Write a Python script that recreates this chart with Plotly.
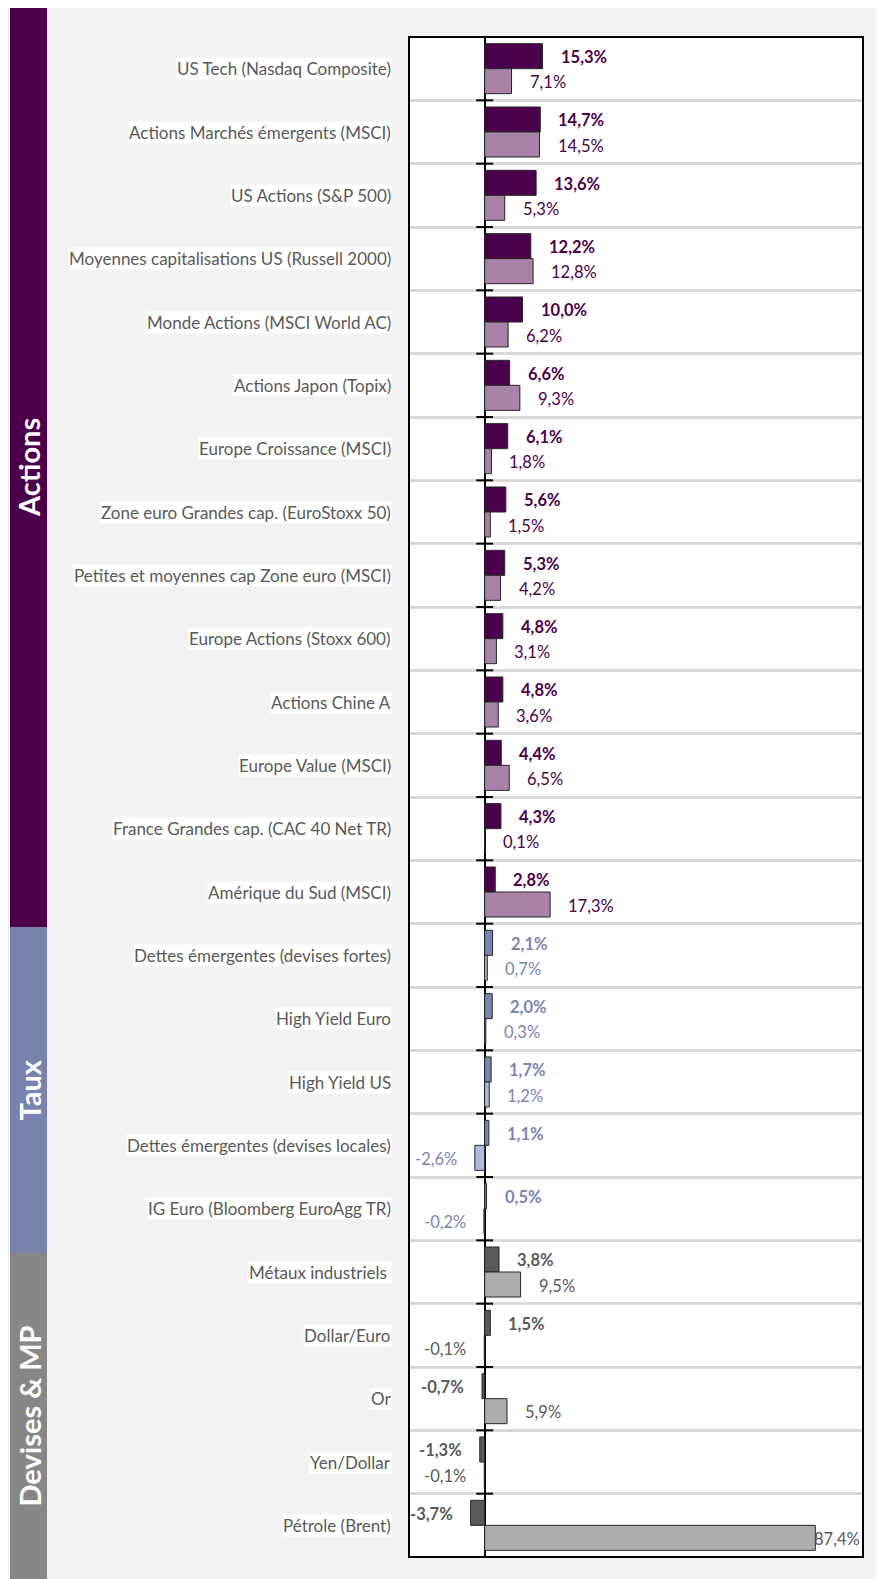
import plotly.graph_objects as go

# ---------------- data ----------------
categories = [
    "US Tech (Nasdaq Composite)",
    "Actions Marchés émergents (MSCI)",
    "US Actions (S&P 500)",
    "Moyennes capitalisations US (Russell 2000)",
    "Monde Actions (MSCI World AC)",
    "Actions Japon (Topix)",
    "Europe Croissance (MSCI)",
    "Zone euro Grandes cap. (EuroStoxx 50)",
    "Petites et moyennes cap Zone euro (MSCI)",
    "Europe Actions (Stoxx 600)",
    "Actions Chine A",
    "Europe Value (MSCI)",
    "France Grandes cap. (CAC 40 Net TR)",
    "Amérique du Sud (MSCI)",
    "Dettes émergentes (devises fortes)",
    "High Yield Euro",
    "High Yield US",
    "Dettes émergentes (devises locales)",
    "IG Euro (Bloomberg EuroAgg TR)",
    "Métaux industriels ",
    "Dollar/Euro",
    "Or",
    "Yen/Dollar",
    "Pétrole (Brent)",
]
series_main = [15.3, 14.7, 13.6, 12.2, 10.0, 6.6, 6.1, 5.6, 5.3, 4.8, 4.8, 4.4, 4.3, 2.8,
               2.1, 2.0, 1.7, 1.1, 0.5,
               3.8, 1.5, -0.7, -1.3, -3.7]
series_second = [7.1, 14.5, 5.3, 12.8, 6.2, 9.3, 1.8, 1.5, 4.2, 3.1, 3.6, 6.5, 0.1, 17.3,
                 0.7, 0.3, 1.2, -2.6, -0.2,
                 9.5, -0.1, 5.9, -0.1, 87.4]
group_names = ["Actions", "Taux", "Devises & MP"]
group_sizes = [14, 5, 5]

# ---------------- styles ----------------
group_dark = {"Actions": "#4B004B", "Taux": "#7A84B2", "Devises & MP": "#595959"}
group_light = {"Actions": "#A783A8", "Taux": "#B3B9D8", "Devises & MP": "#ADADAD"}
group_text = {"Actions": "#4B004B", "Taux": "#7A84B2", "Devises & MP": "#595959"}
band_color = {"Actions": "#4B004B", "Taux": "#7A82AE", "Devises & MP": "#878787"}

FONT = "Lato, 'Open Sans', sans-serif"
# figure sits inside the page's 8px body margin
W, H = 876, 1571
L, R, T, B = 401, 855, 29, 1549
XMIN, XMAX = -20, 100
# band pixel extents (top, bottom) in figure coords
band_px = {"Actions": (0, 919), "Taux": (919, 1245), "Devises & MP": (1245, 1571)}
BAND_X0, BAND_X1 = 2, 39
LABEL_RIGHT = 384


def px_x(X):
    return (X - L) / (R - L)


def px_y(Y):
    return (B - Y) / (B - T)


groups = []
for g, n in zip(group_names, group_sizes):
    groups += [g] * n

n = len(categories)
ypos = list(range(n))


def fmt(v):
    return f"{v:.1f}".replace(".", ",") + "%"


fig = go.Figure()
fig.add_trace(go.Bar(
    y=ypos, x=series_main, orientation="h",
    marker=dict(color=[group_dark[g] for g in groups], line=dict(color="#262626", width=1)),
    hoverinfo="skip", showlegend=False,
))
fig.add_trace(go.Bar(
    y=ypos, x=series_second, orientation="h",
    marker=dict(color=[group_light[g] for g in groups], line=dict(color="#262626", width=1)),
    hoverinfo="skip", showlegend=False,
))
# tick marks on the zero axis at row boundaries
fig.add_trace(go.Scatter(
    x=[0] * (n + 1), y=[k - 0.5 for k in range(n + 1)], mode="markers",
    marker=dict(symbol="line-ew", size=12, line=dict(color="black", width=2)),
    hoverinfo="skip", showlegend=False, cliponaxis=False,
))

annotations = []
px_per_unit = (R - L) / (XMAX - XMIN)
bar_half = (1 - 0.21) / 4  # offset of each bar centre within a group
for i, (cat, g) in enumerate(zip(categories, groups)):
    annotations.append(dict(
        x=px_x(LABEL_RIGHT), xref="paper", y=i, yref="y", text=cat, showarrow=False,
        xanchor="right", yanchor="middle", bgcolor="white", borderpad=0,
        font=dict(family=FONT, size=17, color="#595959"),
    ))
    for v, dy, bold in ((series_main[i], -bar_half, True), (series_second[i], bar_half, False)):
        txt = fmt(v)
        txt_html = f"<b>{txt}</b>" if bold else txt
        end_px = L + (v - XMIN) * px_per_unit
        if v >= 0:
            if end_px + 16 + 46 > R:
                ax, anchor, shift = XMAX, "right", -1
            else:
                ax, anchor, shift = v, "left", 16
        else:
            ax, anchor, shift = v, "right", -16
        annotations.append(dict(
            x=ax, y=i + dy, xref="x", yref="y", text=txt_html, showarrow=False,
            xanchor=anchor, yanchor="middle", xshift=shift, yshift=-1,
            font=dict(family=FONT, size=16.5, color=group_text[g]),
        ))

shapes = [
    dict(type="rect", xref="paper", yref="paper", x0=0, x1=1, y0=0, y1=1,
         line=dict(color="black", width=2), layer="above"),
]
for g in group_names:
    top, bot = band_px[g]
    shapes.append(dict(type="rect", xref="paper", yref="paper", x0=px_x(BAND_X0), x1=px_x(BAND_X1),
                       y0=px_y(bot), y1=px_y(top), fillcolor=band_color[g], line=dict(width=0),
                       layer="below"))
    annotations.append(dict(
        x=px_x((BAND_X0 + BAND_X1) / 2), y=px_y((top + bot) / 2), xref="paper", yref="paper",
        text=f"<b>{g}</b>", showarrow=False, textangle=-90, xanchor="center", yanchor="middle",
        font=dict(family=FONT, size=29, color="white"),
    ))

fig.update_layout(
    width=W, height=H,
    margin=dict(l=L, r=W - R, t=T, b=H - B, pad=0),
    paper_bgcolor="#F2F2F2", plot_bgcolor="white",
    barmode="group", bargap=0.21, bargroupgap=0,
    xaxis=dict(range=[XMIN, XMAX], showgrid=False, showticklabels=False, ticks="",
               zeroline=True, zerolinecolor="black", zerolinewidth=2, fixedrange=True),
    yaxis=dict(range=[n - 0.5, -0.5], tickmode="array", tickvals=[k - 0.5 for k in range(n + 1)],
               showticklabels=False, ticks="", showgrid=True, gridcolor="#D9D9D9", gridwidth=2.5,
               zeroline=False, fixedrange=True),
    shapes=shapes, annotations=annotations,
    font=dict(family=FONT),
)

fig.write_html("out.html")
